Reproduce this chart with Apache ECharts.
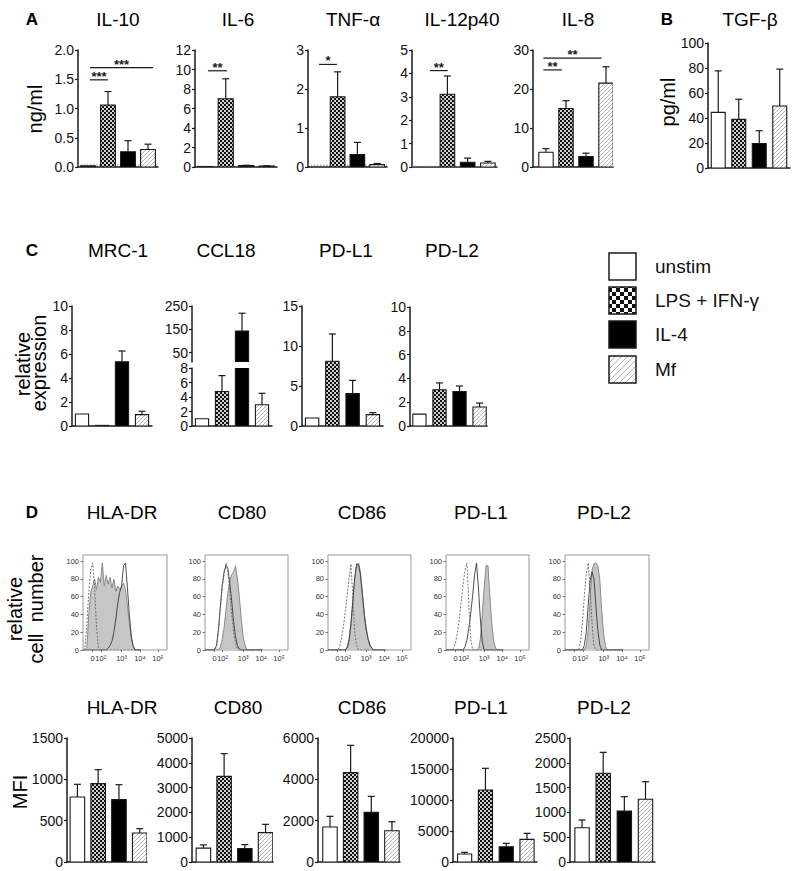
<!DOCTYPE html>
<html><head><meta charset="utf-8">
<script src="https://cdn.jsdelivr.net/npm/echarts@6/dist/echarts.min.js"></script>
<style>html,body{margin:0;padding:0;background:#fff}#c{width:794px;height:871px}</style>
</head><body><div id="c"></div>
<script>
// ---------------- DATA ----------------
const GROUPS = ['unstim', 'LPS + IFN-γ', 'IL-4', 'Mf'];

// Panel A (ng/ml)
const IL10_MEAN = [0.02, 1.06, 0.26, 0.30];
const IL10_ERR  = [0, 0.23, 0.19, 0.09];
const IL6_MEAN  = [0.05, 7.0, 0.14, 0.10];
const IL6_ERR   = [0, 2.05, 0.04, 0.03];
const TNF_MEAN  = [0, 1.80, 0.32, 0.06];
const TNF_ERR   = [0, 0.64, 0.31, 0.03];
const IL12_MEAN = [0, 3.11, 0.20, 0.17];
const IL12_ERR  = [0, 0.78, 0.18, 0.07];
const IL8_MEAN  = [3.8, 15.0, 2.7, 21.5];
const IL8_ERR   = [0.9, 2.0, 0.85, 4.2];
// significance: [from, to, level, label]
const IL10_SIG = [[0.1, 1.0, 1.49, '***'], [0.1, 3.25, 1.70, '***']];
const IL6_SIG  = [[0.13, 1.06, 9.87, '**']];
const TNF_SIG  = [[0.06, 0.97, 2.63, '*']];
const IL12_SIG = [[0.14, 1.01, 4.12, '**']];
const IL8_SIG  = [[-0.13, 0.79, 24.9, '**'], [-0.13, 2.78, 27.9, '**']];
// detection limits
const IL10_DL = 0.034, TNF_DL = 0.045, IL12_DL = 0.03;

// Panel B (pg/ml)
const TGF_MEAN = [44.5, 38.9, 19.6, 49.6];
const TGF_ERR  = [33.2, 16.1, 10.2, 29.5];

// Panel C (relative expression)
const MRC1_MEAN  = [1.0, 0.05, 5.35, 0.95];
const MRC1_ERR   = [0, 0, 0.9, 0.28];
const CCL18_MEAN = [1.0, 4.75, 143, 2.93];
const CCL18_ERR  = [0, 2.2, 76, 1.58];
const PDL1C_MEAN = [1.0, 8.1, 4.05, 1.42];
const PDL1C_ERR  = [0, 3.4, 1.65, 0.25];
const PDL2C_MEAN = [1.0, 3.05, 2.9, 1.6];
const PDL2C_ERR  = [0, 0.57, 0.46, 0.33];
const CCL18_UPPER_TICKS = [50, 150, 250];

// Panel D (MFI)
const HLA_MFI  = [786, 948, 754, 351];
const HLA_ERR  = [154, 169, 181, 52];
const CD80_MFI = [560, 3454, 540, 1183];
const CD80_ERR = [130, 914, 160, 336];
const CD86_MFI = [1694, 4323, 2403, 1515];
const CD86_ERR = [516, 1322, 774, 435];
const PDL1_MFI = [1290, 11613, 2470, 3656];
const PDL1_ERR = [270, 3500, 540, 964];
const PDL2_MFI = [692, 1788, 1028, 1264];
const PDL2_ERR = [155, 423, 289, 355];

// Panel D histograms (display scale position, % of max)
const T = [1.0,1.1,1.2,1.3,1.4,1.5,1.6,1.7,1.8,1.9,2.0,2.1,2.2,2.3,2.4,2.5,2.6,2.7,2.8,2.9,3.0,3.1,3.2,3.3,3.4,3.5,3.6,3.7,3.8,3.9,4.0];
const HLA_ISO   = [0,2,30,65,90,98,70,25,3,0, 0,0,0,0,0,0,0,0,0,0, 0,0,0,0,0,0,0,0,0,0,0];
const HLA_FILL  = [0,0,3,40,65,72,80,68,82,76, 98,72,84,74,82,70,80,66,72,68, 72,75,68,50,30,14,4,0,0,0,0];
const HLA_LINE  = [0,0,0,0,0,0,0,0,0,0, 0,0,0,2,5,10,20,35,52,65, 72,95,98,70,40,16,4,0,0,0,0];
const CD80_ISO  = [0,0,0,0,0,0,3,20,45,70, 85,98,88,65,40,20,8,2,0,0, 0,0,0,0,0,0,0,0,0,0,0];
const CD80_LINE = [0,0,0,0,0,1,5,22,48,72, 88,95,92,75,55,32,15,5,1,0, 0,0,0,0,0,0,0,0,0,0,0];
const CD80_FILL = [0,0,0,0,0,0,0,0,3,12, 25,45,65,78,85,88,95,80,60,35, 15,5,0,0,0,0,0,0,0,0,0];
const CD86_ISO  = [0,0,0,0,0,0,3,12,25,42, 60,80,97,60,20,5,0,0,0,0, 0,0,0,0,0,0,0,0,0,0,0];
const CD86_FILL = [0,0,0,0,0,0,0,0,0,0, 3,12,30,55,80,95,98,88,65,42, 25,13,6,2,0,0,0,0,0,0,0];
const CD86_LINE = [0,0,0,0,0,0,0,0,0,0, 2,10,28,55,82,97,96,85,62,40, 23,12,5,2,0,0,0,0,0,0,0];
const PDL1_ISO  = [0,0,0,0,2,8,20,35,55,75, 90,98,50,12,0,0,0,0,0,0, 0,0,0,0,0,0,0,0,0,0,0];
const PDL1_LINE = [0,0,0,0,0,0,0,0,0,0, 4,12,25,42,62,85,98,70,35,10, 0,0,0,0,0,0,0,0,0,0,0];
const PDL1_FILL = [0,0,0,0,0,0,0,0,0,0, 0,0,0,0,0,0,0,0,12,40, 70,95,95,60,30,10,2,0,0,0,0];
const PDL2_ISO  = [0,0,0,0,0,0,0,0,8,30, 60,85,98,70,30,5,0,0,0,0, 0,0,0,0,0,0,0,0,0,0,0];
const PDL2_LINE = [0,0,0,0,0,0,0,0,0,0, 5,20,50,78,88,80,50,22,6,0, 0,0,0,0,0,0,0,0,0,0,0];
const PDL2_FILL = [0,0,0,0,0,0,0,0,0,0, 0,5,22,55,90,97,98,95,80,45, 18,4,0,0,0,0,0,0,0,0,0];
const HIST_Y_TICKS = [0, 20, 40, 60, 80, 100];
const HIST_X_TICKS = [1.5, 1.92, 3.0, 3.95, 4.88];
const HIST_X_LABELS = ['0', '10²', '10³', '10⁴', '10⁵'];

// ---------------- STYLE ----------------
const FONT = '"Liberation Sans", Arial, Helvetica, sans-serif';
const INK = '#1a1a1a';
function pattern(w, h, draw) {
  const c = document.createElement('canvas'); c.width = w; c.height = h;
  const ctx = c.getContext('2d'); draw(ctx);
  return { image: c.toDataURL(), repeat: 'repeat', imageWidth: w, imageHeight: h };
}
const checkDraw = (s, light) => ctx => { ctx.fillStyle = light; ctx.fillRect(0,0,2*s,2*s); ctx.fillStyle = '#111'; ctx.fillRect(0,0,s,s); ctx.fillRect(s,s,s,s); };
const CHECK = pattern(4, 4, checkDraw(2, '#cfcfcf'));
const CHECK_BIG = pattern(8, 8, checkDraw(4, '#ffffff'));
const hatchDraw = s => ctx => { ctx.fillStyle = '#fff'; ctx.fillRect(0,0,s,s); ctx.strokeStyle = '#b5b5b5'; ctx.lineWidth = 1;
  ctx.beginPath(); ctx.moveTo(0,s); ctx.lineTo(s,0); ctx.moveTo(-1,1); ctx.lineTo(1,-1); ctx.moveTo(s-1,s+1); ctx.lineTo(s+1,s-1); ctx.stroke(); };
const HATCH = pattern(4, 4, hatchDraw(4));
const HATCH_BIG = pattern(6, 6, hatchDraw(6));
const FILLS = ['#ffffff', CHECK, '#000000', HATCH];
const LEGEND_FILLS = ['#ffffff', CHECK_BIG, '#000000', HATCH_BIG];

// ---------------- LAYOUT ----------------
const BAR_PANELS = [
  { mean: IL10_MEAN, err: IL10_ERR, box: [78, 50, 80, 117], x: [-0.5, 3.5], y: [0, 2], step: 0.5, dec: 1, bw: 0.74, dl: IL10_DL, sig: IL10_SIG, fs: 14 },
  { mean: IL6_MEAN, err: IL6_ERR, box: [195, 50, 82, 117], x: [-0.5, 3.5], y: [0, 12], step: 2, bw: 0.74, sig: IL6_SIG, fs: 14 },
  { mean: TNF_MEAN, err: TNF_ERR, box: [308, 50, 79, 117], x: [-0.5, 3.5], y: [0, 3], step: 1, bw: 0.74, dl: TNF_DL, sig: TNF_SIG, fs: 14 },
  { mean: IL12_MEAN, err: IL12_ERR, box: [412, 50, 85, 117], x: [-0.75, 3.45], y: [0, 5], step: 1, bw: 0.72, dl: IL12_DL, sig: IL12_SIG, fs: 14 },
  { mean: IL8_MEAN, err: IL8_ERR, box: [533, 50, 80, 117], x: [-0.65, 3.35], y: [0, 30], step: 10, bw: 0.72, sig: IL8_SIG, fs: 14 },
  { mean: TGF_MEAN, err: TGF_ERR, box: [708, 43, 82, 125], x: [-0.5, 3.5], y: [0, 100], step: 20, bw: 0.68, fs: 14 },
  { mean: MRC1_MEAN, err: MRC1_ERR, box: [72, 306, 80, 120], x: [-0.5, 3.5], y: [0, 10], step: 2, bw: 0.66, fs: 14 },
  { mean: CCL18_MEAN, err: CCL18_ERR, box: [192, 368, 80, 58], x: [-0.5, 3.5], y: [0, 8], step: 2, bw: 0.66, fs: 14 },
  { mean: CCL18_MEAN, err: CCL18_ERR, box: [192, 306, 80, 56], x: [-0.5, 3.5], y: [10, 250], ticks: CCL18_UPPER_TICKS, bw: 0.66, noX: true, fs: 14 },
  { mean: PDL1C_MEAN, err: PDL1C_ERR, box: [302, 306, 81, 120], x: [-0.5, 3.5], y: [0, 15], step: 5, bw: 0.66, fs: 14 },
  { mean: PDL2C_MEAN, err: PDL2C_ERR, box: [410, 307, 77, 119], x: [-0.47, 3.37], y: [0, 10], step: 2, bw: 0.66, fs: 14 },
  { mean: HLA_MFI, err: HLA_ERR, box: [67, 738, 80, 124], x: [-0.5, 3.35], y: [0, 1500], step: 500, bw: 0.7, fs: 14 },
  { mean: CD80_MFI, err: CD80_ERR, box: [192, 738, 81, 124], x: [-0.55, 3.36], y: [0, 5000], step: 1000, bw: 0.7, fs: 14 },
  { mean: CD86_MFI, err: CD86_ERR, box: [318, 738, 82, 124], x: [-0.58, 3.39], y: [0, 6000], step: 2000, bw: 0.7, fs: 14 },
  { mean: PDL1_MFI, err: PDL1_ERR, box: [453, 738, 84, 124], x: [-0.56, 3.48], y: [0, 20000], step: 5000, bw: 0.68, fs: 14 },
  { mean: PDL2_MFI, err: PDL2_ERR, box: [570, 738, 85, 124], x: [-0.57, 3.45], y: [0, 2500], step: 500, bw: 0.68, fs: 14 }
];
const HIST_PANELS = [
  { iso: HLA_ISO, fill: HLA_FILL, line: HLA_LINE, box: [83, 555, 84, 95] },
  { iso: CD80_ISO, fill: CD80_FILL, line: CD80_LINE, box: [205, 555, 83, 95] },
  { iso: CD86_ISO, fill: CD86_FILL, line: CD86_LINE, box: [328, 555, 83, 95] },
  { iso: PDL1_ISO, fill: PDL1_FILL, line: PDL1_LINE, box: [446, 555, 83, 95] },
  { iso: PDL2_ISO, fill: PDL2_FILL, line: PDL2_LINE, box: [565, 555, 84, 95] }
];
const TEXTS = [
  // [text, x, y, size, bold]
  ['A', 32, 19, 17, true], ['IL-10', 118, 19.5, 19], ['IL-6', 238, 19.5, 19], ['TNF-α', 353, 19.5, 19],
  ['IL-12p40', 462, 19.5, 19], ['IL-8', 578, 19.5, 19], ['B', 667, 19, 17, true], ['TGF-β', 750, 19.5, 19],
  ['C', 32, 250, 17, true], ['MRC-1', 118, 250, 19], ['CCL18', 226, 250, 19], ['PD-L1', 346, 250, 19], ['PD-L2', 452, 250, 19],
  ['D', 32, 512, 17, true], ['HLA-DR', 122, 512, 19], ['CD80', 242, 512, 19], ['CD86', 362, 512, 19], ['PD-L1', 481, 512, 19], ['PD-L2', 604, 512, 19],
  ['HLA-DR', 122, 707, 19], ['CD80', 238, 707, 19], ['CD86', 362, 707, 19], ['PD-L1', 481, 707, 19], ['PD-L2', 604, 707, 19]
];
const VTEXTS = [
  ['ng/ml', 35, 109], ['pg/ml', 668, 102], ['relative', 23, 364], ['expression', 39, 363],
  ['relative', 15, 609], ['cell  number', 36, 609], ['MFI', 20, 792]
];
const LEGEND_BOX = { x: 609, w: 27, tops: [253, 287, 321, 356], textX: 655 };

// ---------------- BUILD ----------------
const grids = [], xAxis = [], yAxis = [], series = [], graphic = [];
const axisLineStyle = { color: INK, width: 1.5 };

BAR_PANELS.forEach(p => {
  const gi = grids.length;
  grids.push({ left: p.box[0], top: p.box[1], width: p.box[2], height: p.box[3], containLabel: false });
  xAxis.push({ type: 'value', gridIndex: gi, min: p.x[0], max: p.x[1],
    axisLine: { show: !p.noX, onZero: false, lineStyle: axisLineStyle },
    axisTick: { show: false }, axisLabel: { show: false }, splitLine: { show: false } });
  const yl = { fontSize: p.fs, color: '#111', margin: 4, fontFamily: FONT,
    formatter: v => p.dec ? v.toFixed(p.dec) : String(v) };
  const yt = { show: true, length: 3, lineStyle: { color: INK, width: 1.2 } };
  const ya = { type: 'value', gridIndex: gi, min: p.y[0], max: p.y[1],
    axisLine: { show: true, onZero: false, lineStyle: axisLineStyle },
    axisTick: yt, axisLabel: yl, splitLine: { show: false } };
  if (p.ticks) { yl.customValues = p.ticks; yt.customValues = p.ticks; } else { ya.interval = p.step; }
  yAxis.push(ya);
  if (p.dl != null) {
    series.push({ type: 'line', xAxisIndex: gi, yAxisIndex: gi, data: [[p.x[0], p.dl], [p.x[1], p.dl]],
      symbol: 'none', silent: true, z: 1, lineStyle: { color: '#8c8c8c', width: 1, type: [1.5, 1.5] } });
  }
  series.push({ type: 'custom', xAxisIndex: gi, yAxisIndex: gi, clip: true, z: 3, silent: true,
    data: p.mean.map((m, i) => [i, m, p.err[i]]),
    renderItem(params, api) {
      const i = api.value(0), m = api.value(1), e = api.value(2);
      const base = p.y[0];
      const ch = [];
      if (m > base) {
        const a = api.coord([i - p.bw / 2, m]), b = api.coord([i + p.bw / 2, base]);
        ch.push({ type: 'rect', shape: { x: a[0], y: a[1], width: b[0] - a[0], height: b[1] - a[1] },
          style: { fill: FILLS[i], stroke: INK, lineWidth: 1.1 } });
      }
      if (e > 0 && m + e > base) {
        const t = api.coord([i, m + e]), s = api.coord([i, Math.max(m, base)]);
        ch.push({ type: 'line', shape: { x1: t[0], y1: t[1], x2: s[0], y2: s[1] }, style: { stroke: INK, lineWidth: 1.2 } });
        ch.push({ type: 'line', shape: { x1: t[0] - 3.5, y1: t[1], x2: t[0] + 3.5, y2: t[1] }, style: { stroke: INK, lineWidth: 1.2 } });
      }
      return { type: 'group', children: ch };
    } });
  if (p.sig) {
    series.push({ type: 'custom', xAxisIndex: gi, yAxisIndex: gi, z: 4, silent: true,
      data: p.sig.map(s => [s[0], s[1], s[2]]),
      renderItem(params, api) {
        const s = p.sig[params.dataIndex];
        const a = api.coord([s[0], s[2]]), b = api.coord([s[1], s[2]]);
        return { type: 'group', children: [
          { type: 'line', shape: { x1: a[0], y1: a[1], x2: b[0], y2: b[1] }, style: { stroke: INK, lineWidth: 1.2 } },
          { type: 'text', x: (a[0] + b[0]) / 2, y: a[1] + 3, style: { text: s[3], align: 'center', verticalAlign: 'bottom',
            textAlign: 'center', textVerticalAlign: 'bottom', fontSize: 13, fontWeight: 'bold', fontFamily: FONT, fill: INK } }
        ] };
      } });
  }
});

HIST_PANELS.forEach(h => {
  const gi = grids.length;
  grids.push({ left: h.box[0], top: h.box[1], width: h.box[2], height: h.box[3], show: true, borderColor: '#999', borderWidth: 1, backgroundColor: 'transparent' });
  xAxis.push({ type: 'value', gridIndex: gi, min: 1.0, max: 5.35, axisLine: { show: false },
    axisTick: { show: true, customValues: HIST_X_TICKS, length: 2, lineStyle: { color: '#777' } },
    axisLabel: { customValues: HIST_X_TICKS, fontSize: 7.5, color: '#333', margin: 4, fontFamily: FONT,
      formatter: v => { const k = HIST_X_TICKS.findIndex(t => Math.abs(t - v) < 1e-6); return k >= 0 ? HIST_X_LABELS[k] : ''; } },
    splitLine: { show: false } });
  yAxis.push({ type: 'value', gridIndex: gi, min: 0, max: 107, axisLine: { show: false },
    axisTick: { show: true, customValues: HIST_Y_TICKS, length: 2.5, lineStyle: { color: '#777' } },
    axisLabel: { customValues: HIST_Y_TICKS, fontSize: 7.5, color: '#333', margin: 4, fontFamily: FONT },
    splitLine: { show: false } });
  const pts = arr => T.map((t, i) => [t, arr[i]]);
  series.push({ type: 'line', xAxisIndex: gi, yAxisIndex: gi, data: pts(h.fill), symbol: 'none', silent: true, z: 2,
    lineStyle: { color: '#8a8a8a', width: 1 }, areaStyle: { color: '#c6c6c6', opacity: 1 } });
  series.push({ type: 'line', xAxisIndex: gi, yAxisIndex: gi, data: pts(h.line), symbol: 'none', silent: true, z: 3,
    lineStyle: { color: '#3a3a3a', width: 0.9 } });
  series.push({ type: 'line', xAxisIndex: gi, yAxisIndex: gi, data: pts(h.iso), symbol: 'none', silent: true, z: 4,
    lineStyle: { color: '#666', width: 0.9, type: [2, 1.5] } });
});

TEXTS.forEach(t => graphic.push({ type: 'text', x: t[1], y: t[2], silent: true,
  style: { text: t[0], align: 'center', verticalAlign: 'middle', textAlign: 'center', textVerticalAlign: 'middle',
    fontSize: t[3], fontWeight: t[4] ? 'bold' : 'normal', fontFamily: FONT, fill: '#000' } }));
VTEXTS.forEach(t => graphic.push({ type: 'text', x: t[1], y: t[2], rotation: Math.PI / 2, silent: true,
  style: { text: t[0], align: 'center', verticalAlign: 'middle', textAlign: 'center', textVerticalAlign: 'middle',
    fontSize: 20, fontFamily: FONT, fill: '#000' } }));
GROUPS.forEach((g, i) => {
  const top = LEGEND_BOX.tops[i];
  graphic.push({ type: 'rect', silent: true, shape: { x: LEGEND_BOX.x, y: top, width: LEGEND_BOX.w, height: LEGEND_BOX.w },
    style: { fill: LEGEND_FILLS[i], stroke: INK, lineWidth: 1.5 } });
  graphic.push({ type: 'text', silent: true, x: LEGEND_BOX.textX, y: top + LEGEND_BOX.w / 2,
    style: { text: g, align: 'left', verticalAlign: 'middle', textAlign: 'left', textVerticalAlign: 'middle',
      fontSize: 19, fontFamily: FONT, fill: '#111' } });
});

const chart = echarts.init(document.getElementById('c'), null, { renderer: 'svg', width: 794, height: 871 });
chart.setOption({ animation: false, backgroundColor: '#fff', textStyle: { fontFamily: FONT },
  grid: grids, xAxis, yAxis, series, graphic });
</script></body></html>
